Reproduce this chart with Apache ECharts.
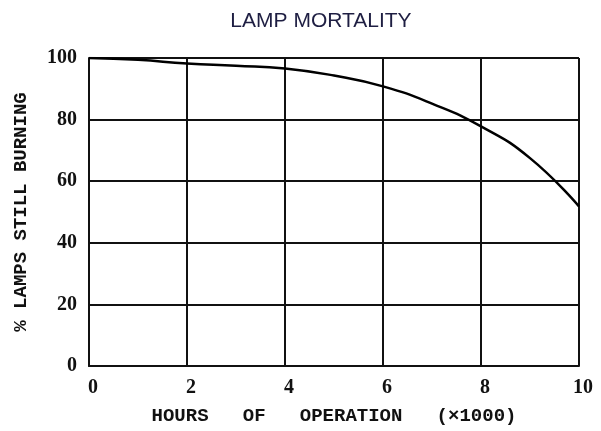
<!DOCTYPE html>
<html>
<head>
<meta charset="utf-8">
<script src="https://cdn.jsdelivr.net/npm/echarts@6/dist/echarts.min.js"></script>
<style>
  html, body { margin: 0; padding: 0; background: #fff; }
  #chart { width: 601px; height: 431px; }
</style>
</head>
<body>
<div id="chart"></div>
<script>
// 数据
const hours = [0, 1, 2, 3, 4, 5, 6, 7, 8, 9, 10];
const stillBurning = [100, 99.4, 98.2, 97.5, 96.6, 94.3, 90.8, 85.2, 77.8, 67.5, 51.8];
const xTicks = [0, 2, 4, 6, 8, 10];
const yTicks = [0, 20, 40, 60, 80, 100];

(function(){
    const myChart = echarts.init(document.getElementById("chart"));
    const typeFont = "'Liberation Mono', 'DejaVu Sans Mono', monospace";
    const digitFont = "'Liberation Serif', 'DejaVu Serif', serif";
    const lineColor = "#111";

    const option = {
        backgroundColor: "#fff",
        animation: false,
        title: {
            text: "LAMP MORTALITY",
            left: 316,
            textAlign: "center",
            top: 6,
            textStyle: {
                fontFamily: "'Liberation Sans', Arial, sans-serif",
                fontWeight: "normal",
                fontSize: 21,
                color: "#1e1e42"
            }
        },
        grid: {
            left: 89,
            right: 22,
            top: 58,
            bottom: 58
        },
        xAxis: {
            type: "value",
            min: xTicks[0],
            max: xTicks[xTicks.length - 1],
            interval: 2,
            name: "HOURS   OF   OPERATION   (×1000)",
            nameLocation: "middle",
            nameGap: 41,
            nameTextStyle: {
                fontFamily: typeFont,
                fontWeight: "bold",
                fontSize: 19,
                color: "#111"
            },
            axisLine: { show: true, lineStyle: { color: lineColor, width: 2 } },
            axisTick: { show: false },
            axisLabel: {
                margin: 12,
                padding: [0, 0, 0, 8],
                fontFamily: digitFont,
                fontWeight: "bold",
                fontSize: 20,
                color: "#111"
            },
            splitLine: { show: true, lineStyle: { color: lineColor, width: 2 } }
        },
        yAxis: {
            type: "value",
            min: yTicks[0],
            max: yTicks[yTicks.length - 1],
            interval: 20,
            name: "% LAMPS STILL BURNING",
            nameLocation: "middle",
            nameGap: 58,
            nameTextStyle: {
                fontFamily: typeFont,
                fontWeight: "bold",
                fontSize: 19,
                color: "#111"
            },
            axisLine: { show: true, lineStyle: { color: lineColor, width: 2 } },
            axisTick: { show: false },
            axisLabel: {
                margin: 12,
                padding: [2, 0, 0, 0],
                fontFamily: digitFont,
                fontWeight: "bold",
                fontSize: 20,
                color: "#111"
            },
            splitLine: { show: true, lineStyle: { color: lineColor, width: 2 } }
        },
        series: [
            {
                type: "line",
                data: hours.map((h, i) => [h, stillBurning[i]]),
                smooth: true,
                showSymbol: false,
                lineStyle: { color: "#000", width: 2.5 }
            }
        ]
    };
    myChart.setOption(option);

    window.addEventListener("resize", function() {
        myChart.resize();
    });
})();
</script>
</body>
</html>
